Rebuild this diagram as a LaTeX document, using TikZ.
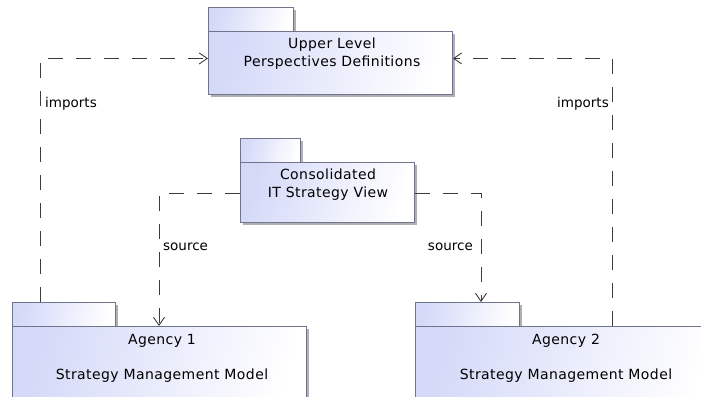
\documentclass[tikz,border=0pt]{standalone}
\usepackage{fontspec}
\setmainfont{DejaVu Sans}
\newfontfamily\pkgfont[LetterSpace=3]{DejaVu Sans}
\usetikzlibrary{arrows.meta,shadows,calc}
\definecolor{pkgline}{RGB}{112,116,140}
\definecolor{pkgfill}{RGB}{212,217,248}
\definecolor{pkgshadow}{RGB}{175,175,182}
\definecolor{depline}{RGB}{60,60,60}
\tikzset{
  pkgpart/.style={draw=pkgline, line width=0.9pt, left color=pkgfill, right color=white,
    shading angle=75, inner sep=0pt, anchor=north west,
    drop shadow={shadow xshift=2.5pt, shadow yshift=-2.5pt, fill=pkgshadow, opacity=1}},
  pkgtext/.style={font=\pkgfont\fontsize{14}{18}\selectfont, align=center, inner sep=0pt, text=black},
  dep/.style={draw=depline, line width=0.9pt, dash pattern=on 15pt off 13pt,
    -{Straight Barb[length=8pt,width=11pt,line width=0.9pt]}},
  deplabel/.style={font=\fontsize{13.5}{16}\selectfont, inner sep=0pt, text=black}
}
\begin{document}
\begin{tikzpicture}[x=1pt,y=-1pt]
\useasboundingbox (0,0) rectangle (701,396);
\begin{scope}
\clip (0,0) rectangle (701,396);
% Upper Level package
\node[pkgpart, minimum width=85pt, minimum height=24pt] (uptab) at (208,7) {};
\node[pkgpart, minimum width=244pt, minimum height=63pt] (up) at (208,31) {};
\node[pkgtext] (uptext) at (332,54) {Upper Level\\Perspectives Definitions};
% Consolidated package
\node[pkgpart, minimum width=60pt, minimum height=24pt] (cvtab) at (240,138) {};
\node[pkgpart, minimum width=174pt, minimum height=60pt] (cv) at (240,162) {};
\node[pkgtext] (cvtext) at (328,185) {Consolidated\\IT Strategy View};
% Agency 1
\node[pkgpart, minimum width=103pt, minimum height=24pt] (aonetab) at (12,302) {};
\node[pkgpart, minimum width=294pt, minimum height=90pt] (aone) at (12,326) {};
\node[pkgtext] (aonetext) at (162,341) {Agency 1};
\node[pkgtext] (aonesub) at (162,376) {Strategy Management Model};
% Agency 2
\node[pkgpart, minimum width=104pt, minimum height=24pt] (atwotab) at (415,302) {};
\node[pkgpart, minimum width=305pt, minimum height=90pt] (atwo) at (415,326) {};
\node[pkgtext] (atwotext) at (566,341) {Agency 2};
\node[pkgtext] (atwosub) at (566,376) {Strategy Management Model};
\end{scope}
% connectors
\draw[dep] ($(aonetab.north west)+(28,0)$) |- ($(up.west)+(0,-4.5)$);
\draw[dep] ($(atwo.north west)+(197,0)$) |- ($(up.east)+(0,-4.5)$);
\draw[dep] ($(cv.west)+(0,1)$) -| ($(aone.north west)+(147,0)$);
\draw[dep] ($(cv.east)+(0,1)$) -| ($(atwotab.north west)+(66,0)$);
% labels
\node[deplabel, anchor=west] (limp) at (45,104) {imports};
\node[deplabel, anchor=east] (rimp) at (609,104) {imports};
\node[deplabel, anchor=west] (lsrc) at (163,247) {source};
\node[deplabel, anchor=east] (rsrc) at (473,247) {source};
\end{tikzpicture}
\end{document}
